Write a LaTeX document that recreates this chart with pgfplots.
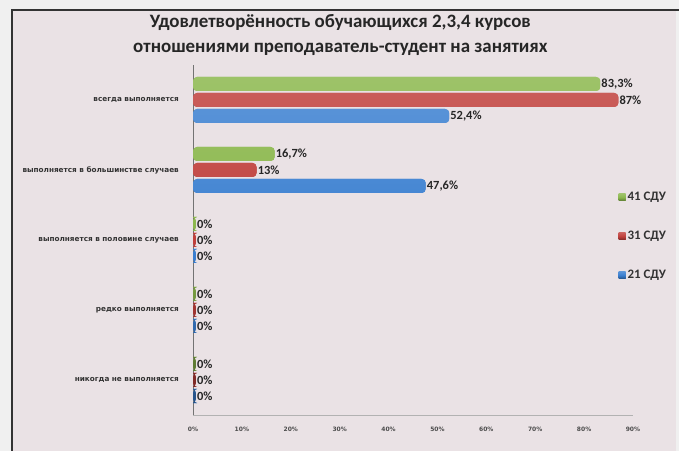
\documentclass[border=0pt]{standalone}
\usepackage{pgfplots}
\pgfplotsset{compat=1.18}
\usepackage{fontspec}
\setmainfont{Carlito}
\newfontfamily\smallfont{DejaVu Sans}
\definecolor{bg}{HTML}{EAE2E5}
\definecolor{cg}{HTML}{8CB84E}
\definecolor{cr}{HTML}{C0403C}
\definecolor{cb}{HTML}{3A7FD0}
\begin{document}
\begin{tikzpicture}[x=1bp,y=1bp]
\useasboundingbox (0bp,0bp) rectangle (679bp,451bp);
\fill[black!6] (0bp,0bp) rectangle (679bp,451bp);
\fill[bg] (12bp,0bp) rectangle (676bp,441bp);
\draw[black!80, line width=1.5bp] (12bp,0bp) -- (12bp,441bp) -- (679bp,441bp);
\begin{axis}[
  at={(193bp,36bp)}, anchor=south west,
  scale only axis, width=440bp, height=350bp,
  xbar=2bp, bar width=14bp,
  xmin=0, xmax=90, ymin=-0.5, ymax=4.5,
  xtick={0,10,...,90},
  ytick={0,...,4},
  yticklabels={никогда не выполняется, редко выполняется, выполняется в половине случаев, выполняется в большинстве случаев, всегда выполняется},
  axis x line*=bottom, axis y line*=left,
  x axis line style={black!30, -}, y axis line style={black!55, line width=1bp, -},
  major tick length=0pt,
  /pgf/number format/assume math mode=true,
  xticklabel={\pgfmathprintnumber{\tick}\%},
  xticklabel style={font=\smallfont\bfseries\fontsize{6}{7}\selectfont, text=black!70, yshift=-9bp},
  yticklabel style={font=\smallfont\bfseries\fontsize{7.3}{8}\selectfont, text=black!80, inner sep=0pt, xshift=-14bp},
  point meta=explicit,
  nodes near coords={\pgfmathprintnumber[use comma,fixed,precision=1]{\pgfplotspointmeta}\%},
  nodes near coords style={font=\bfseries\fontsize{12.5}{13}\selectfont, text=black!85, anchor=west, inner sep=1bp},
  every axis plot/.append style={draw=none, rounded corners=4bp},
  title={Удовлетворённость обучающихся 2,3,4 курсов\\отношениями преподаватель-студент на занятиях},
  title style={at={(axis description cs:0.335,1.069)}, anchor=center, align=center,
    font=\bfseries\fontsize{19}{25}\selectfont, text=black!85},
  reverse legend,
  legend cell align=left,
  legend style={at={(axis description cs:0.96,0.648)}, anchor=north west, draw=none, fill=none,
    font=\bfseries\fontsize{13}{14}\selectfont, text=black!80, row sep=25bp},
  legend image code/.code={\fill[#1, rounded corners=0pt] (0bp,-3.5bp) rectangle (7bp,3.5bp);},
]
\addplot+[fill=cb, top color=cb!85!white, bottom color=cb!65!black, middle color=cb] coordinates {(0.6,0) [0] (0.6,1) [0] (0.6,2) [0] (47.6,3) [47.6] (52.4,4) [52.4]};
\addplot+[fill=cr, top color=cr!85!white, bottom color=cr!65!black, middle color=cr] coordinates {(0.6,0) [0] (0.6,1) [0] (0.6,2) [0] (13,3) [13] (87,4) [87]};
\addplot+[fill=cg, top color=cg!85!white, bottom color=cg!65!black, middle color=cg] coordinates {(0.6,0) [0] (0.6,1) [0] (0.6,2) [0] (16.7,3) [16.7] (83.3,4) [83.3]};
\legend{21 СДУ, 31 СДУ, 41 СДУ}
\end{axis}
\end{tikzpicture}
\end{document}
